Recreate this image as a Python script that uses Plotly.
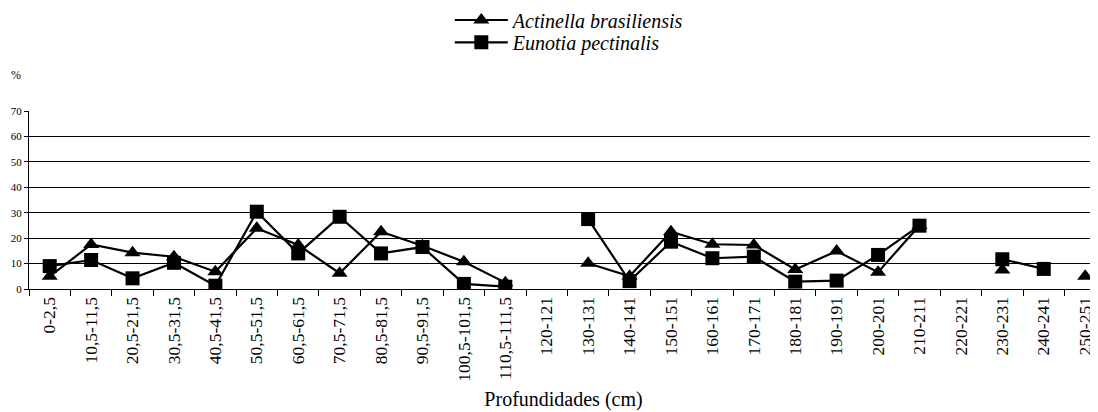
import plotly.graph_objects as go

categories = ["0-2,5", "10,5-11,5", "20,5-21,5", "30,5-31,5", "40,5-41,5",
              "50,5-51,5", "60,5-61,5", "70,5-71,5", "80,5-81,5", "90,5-91,5",
              "100,5-101,5", "110,5-111,5", "120-121", "130-131", "140-141",
              "150-151", "160-161", "170-171", "180-181", "190-191", "200-201",
              "210-211", "220-221", "230-231", "240-241", "250-251"]

actinella = [5, 17.5, 14.3, 12.7, 6.8, 23.9, 17.3, 6.2, 22.5, 17.0, 10.7, 2.5,
             None, 10.1, 5.0, 22.5, 17.6, 17.3, 7.7, 14.9, 6.6, 25.0, None, 7.5,
             None, 5.0]

eunotia = [9.0, 11.4, 4.2, 10.3, 1.3, 30.4, 14.0, 28.4, 14.0, 16.5, 2.0, 0.9,
           None, 27.5, 3.1, 18.6, 12.1, 12.7, 2.9, 3.3, 13.4, 24.9, None, 11.7,
           7.9, None]

y_ticks = [0, 10, 20, 30, 40, 50, 60, 70]

FONT = "Liberation Serif"

# the page body adds an 8px margin; the figure is sized to fill the rest
OFF = 8
W, H = 1098 - OFF, 412 - OFF
L, T = 29.3 - OFF, 111 - OFF
PH = 178
B = H - T - PH
PW = W - L


def px(xp):
    return (xp - OFF - L) / PW


def py(yp):
    return 1 + (T - (yp - OFF)) / PH


fig = go.Figure()
fig.add_trace(go.Scatter(
    x=categories, y=actinella, name="Actinella brasiliensis",
    mode="lines+markers", connectgaps=False, legend="legend",
    line=dict(color="black", width=2.2),
    marker=dict(symbol="triangle-up", size=14, color="black"),
))
fig.add_trace(go.Scatter(
    x=categories, y=eunotia, name="Eunotia pectinalis",
    mode="lines+markers", connectgaps=False, legend="legend2",
    line=dict(color="black", width=2.2),
    marker=dict(symbol="square", size=14, color="black"),
))

legend_common = dict(
    xanchor="left", yanchor="middle", itemwidth=53,
    font=dict(family=FONT, size=20, style="italic", color="black"),
    bgcolor="rgba(0,0,0,0)", borderwidth=0,
)

fig.update_layout(
    width=W, height=H,
    margin=dict(l=L, r=0, t=T, b=B, autoexpand=False),
    paper_bgcolor="white", plot_bgcolor="white",
    font=dict(family=FONT, color="black"),
    showlegend=True,
    legend=dict(x=px(450), y=py(20), **legend_common),
    legend2=dict(x=px(450), y=py(42.3), **legend_common),
    xaxis=dict(
        type="category", categoryorder="array", categoryarray=categories,
        range=[-0.5, 25.31], tickson="boundaries",
        ticks="outside", ticklen=6, tickcolor="black", tickwidth=1,
        tickangle=-90, tickfont=dict(family=FONT, size=17.5, color="black"),
        showline=True, linecolor="black", linewidth=1.2,
        showgrid=False, zeroline=False, automargin=False,
        title=dict(text="Profundidades (cm)", font=dict(family=FONT, size=20, color="black"), standoff=11),
    ),
    yaxis=dict(
        range=[0, 70], tickvals=y_ticks,
        ticks="outside", ticklen=4, tickcolor="black",
        tickfont=dict(family=FONT, size=11, color="black"),
        showline=True, linecolor="black", linewidth=1.2,
        showgrid=True, gridcolor="black", gridwidth=1,
        zeroline=False, automargin=False,
    ),
    annotations=[dict(
        text="%", xref="paper", yref="paper",
        x=px(16), y=py(75), xanchor="center", yanchor="middle",
        showarrow=False, font=dict(family=FONT, size=12, color="black"),
    )],
)

fig.write_html("out.html")
